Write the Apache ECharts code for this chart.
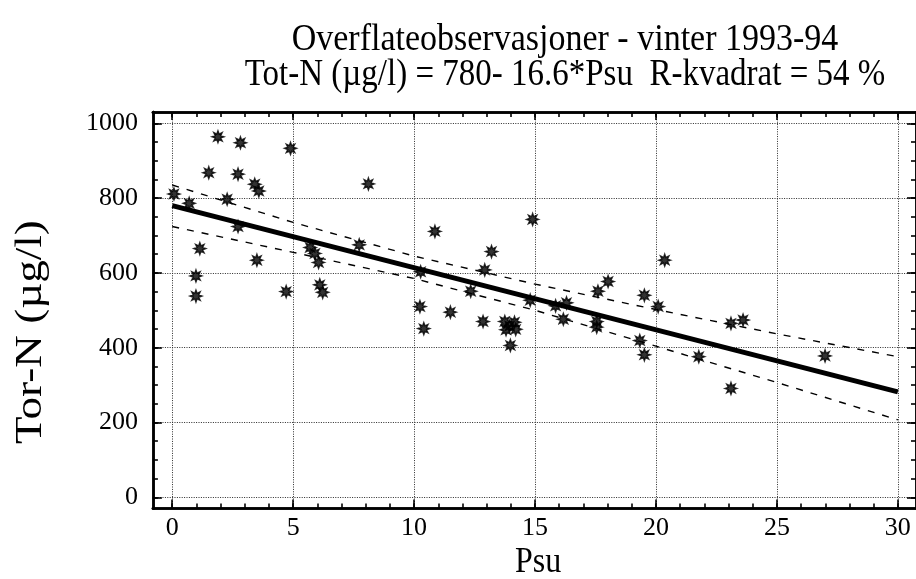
<!DOCTYPE html>
<html>
<head>
<meta charset="utf-8">
<script src="https://cdn.jsdelivr.net/npm/echarts@6/dist/echarts.min.js"></script>
<style>
  html, body { margin: 0; padding: 0; background: #fff; }
  #chart { width: 916px; height: 579px; }
</style>
</head>
<body>
<div id="chart"></div>
<script>
// Text
const titleLine1 = 'Overflateobservasjoner - vinter 1993-94';
const titleLine2 = 'Tot-N (µg/l) = 780- 16.6*Psu  R-kvadrat = 54 %';
const xName = 'Psu';
const yName = 'Tor-N (µg/l)';

// Axis ticks
const xMajorTicks = [0, 5, 10, 15, 20, 25, 30];
const xMinorTicks = [0, 1, 2, 3, 4, 5, 6, 7, 8, 9, 10, 11, 12, 13, 14, 15, 16, 17, 18, 19, 20,
                     21, 22, 23, 24, 25, 26, 27, 28, 29, 30];
const yMajorTicks = [0, 200, 400, 600, 800, 1000];
const yMinorTicks = [0, 50, 100, 150, 200, 250, 300, 350, 400, 450, 500, 550, 600, 650, 700,
                     750, 800, 850, 900, 950, 1000];

// Observations: salinity (Psu) and total nitrogen (µg/l)
const psu = [0.07, 0.70, 0.98, 0.98, 1.14, 1.51, 1.89, 2.27, 2.72, 2.72, 2.82, 3.41, 3.58, 3.50,
             4.71, 4.89, 5.70, 5.90, 6.05, 6.10, 6.22, 7.73, 8.11, 10.27, 10.24, 10.40, 10.86,
             11.50, 12.34, 12.85, 12.92, 13.20, 13.75, 14.15, 13.80, 14.20, 13.95, 13.98, 14.80,
             14.90, 15.85, 16.30, 16.17, 17.55, 17.55, 17.60, 18.02, 19.33, 19.52, 19.52, 20.09,
             20.36, 21.77, 23.10, 23.60, 23.10, 26.99];
const totN = [811, 786, 592, 538, 665, 868, 964, 797, 864, 724, 948, 837, 819, 634,
              550, 933, 668, 652, 628, 568, 548, 675, 838, 603, 510, 451, 711,
              495, 551, 470, 608, 657, 470, 468, 448, 449, 458, 406, 527,
              743, 512, 520, 476, 470, 455, 551, 577, 419, 540, 381, 510,
              634, 376, 465, 474, 291, 378];

// Fitted line: Tot-N = 780 - 16.6 * Psu
const fitIntercept = 780;
const fitSlope = -16.6;
const fitRange = [0, 30];

// Confidence limits of the fit
const bandX = [0, 5, 10, 15, 20, 25, 30];
const bandUpper = [835, 735, 645, 570, 502, 437, 376];
const bandLower = [724, 655, 585, 500, 404, 307, 207];

// ---------------------------------------------------------------
const serif = '"Liberation Serif", "Times New Roman", serif';

// eight-pointed asterisk marker
function asteriskPath(rOuter, rInner) {
  let d = '';
  for (let i = 0; i < 16; i++) {
    const r = i % 2 === 0 ? rOuter : rInner;
    const a = i * Math.PI / 8;
    d += (i === 0 ? 'M' : 'L') + (r * Math.cos(a)).toFixed(2) + ',' + (r * Math.sin(a)).toFixed(2);
  }
  return 'path://' + d + 'Z';
}

const points = psu.map((x, i) => [x, totN[i]]);
const fitData = fitRange.map(x => [x, fitIntercept + fitSlope * x]);
const upperData = bandX.map((x, i) => [x, bandUpper[i]]);
const lowerData = bandX.map((x, i) => [x, bandLower[i]]);

const X_MIN = -0.8, X_MAX = 30.75, Y_MIN = -30, Y_MAX = 1030;
const frame = { color: '#000', width: 2.5 };
const tickStyle = { color: '#000', width: 1.6 };
const gridStyle = { color: '#2a2a2a', width: 1, type: [1, 1.4] };

function xAxis(position, ticks, len, opts) {
  return Object.assign({
    type: 'value', gridIndex: 0, min: X_MIN, max: X_MAX, position: position,
    axisLine: { show: true, onZero: false, lineStyle: frame },
    axisTick: { show: true, inside: true, length: len, customValues: ticks, lineStyle: tickStyle },
    axisLabel: { show: false },
    splitLine: { show: false }
  }, opts || {});
}
function yAxis(position, ticks, len, opts) {
  return Object.assign({
    type: 'value', gridIndex: 0, min: Y_MIN, max: Y_MAX, position: position,
    axisLine: { show: true, onZero: false, lineStyle: frame },
    axisTick: { show: true, inside: true, length: len, customValues: ticks, lineStyle: tickStyle },
    axisLabel: { show: false },
    splitLine: { show: false }
  }, opts || {});
}

const chart = echarts.init(document.getElementById('chart'), null, { renderer: 'canvas' });
chart.setOption({
  animation: false,
  backgroundColor: '#fff',
  grid: { left: 152.9, top: 112.1, width: 766, height: 396.4 },
  xAxis: [
    xAxis('bottom', xMajorTicks, 9, {
      axisLabel: { show: true, customValues: xMajorTicks, color: '#000', fontFamily: serif, fontSize: 26, margin: 7,
                   formatter: v => String(v) },
      splitLine: { show: true, lineStyle: gridStyle }
    }),
    xAxis('bottom', xMinorTicks, 5),
    xAxis('top', xMajorTicks, 8),
    xAxis('top', xMinorTicks, 5)
  ],
  yAxis: [
    yAxis('left', yMajorTicks, 9, {
      axisLabel: { show: true, customValues: yMajorTicks, color: '#000', fontFamily: serif, fontSize: 26, margin: 15,
                   formatter: v => String(v) },
      splitLine: { show: true, lineStyle: gridStyle }
    }),
    yAxis('left', yMinorTicks, 5),
    yAxis('right', yMajorTicks, 9),
    yAxis('right', yMinorTicks, 5)
  ],
  graphic: [
    { type: 'text', x: 565, y: 40, scaleY: 1.12,
      style: { text: titleLine1, fill: '#000', font: '34px ' + serif, align: 'center', verticalAlign: 'middle' } },
    { type: 'text', x: 565, y: 75, scaleY: 1.12,
      style: { text: titleLine2, fill: '#000', font: '33px ' + serif, align: 'center', verticalAlign: 'middle' } },
    { type: 'text', x: 538, y: 563, scaleY: 1.1,
      style: { text: xName, fill: '#000', font: '32px ' + serif, align: 'center', verticalAlign: 'middle' } },
    { type: 'text', x: 31, y: 332, rotation: Math.PI / 2, scaleX: 1.22,
      style: { text: yName, fill: '#000', font: '37px ' + serif, align: 'center', verticalAlign: 'middle' } }
  ],
  series: [
    {
      type: 'line', data: upperData, symbol: 'none', silent: true,
      lineStyle: { color: '#000', width: 1.4, type: [7, 8] }, z: 3
    },
    {
      type: 'line', data: lowerData, symbol: 'none', silent: true,
      lineStyle: { color: '#000', width: 1.4, type: [7, 8] }, z: 3
    },
    {
      type: 'line', data: fitData, symbol: 'none', silent: true,
      lineStyle: { color: '#000', width: 5 }, z: 4
    },
    {
      type: 'scatter', data: points, symbol: asteriskPath(10, 5), symbolSize: 12,
      itemStyle: { color: '#000', borderColor: '#000', borderWidth: 1.4 }, z: 5
    }
  ]
});
</script>
</body>
</html>
